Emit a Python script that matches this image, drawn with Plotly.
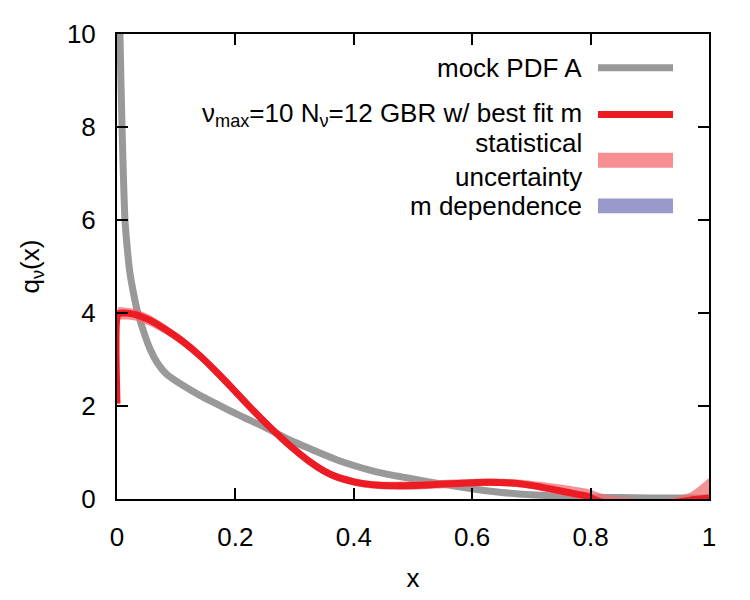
import plotly.graph_objects as go

# ---- data ----
pdf_x = [0.004, 0.005, 0.0085, 0.0135, 0.018, 0.022, 0.028, 0.034, 0.045, 0.056, 0.068, 0.084, 0.113,
         0.14, 0.169, 0.2, 0.225, 0.25, 0.282, 0.3, 0.326, 0.35, 0.372, 0.4, 0.427, 0.45, 0.5, 0.55,
         0.6, 0.65, 0.7, 0.75, 0.8, 0.85, 0.9, 0.95, 1.0]
pdf_y = [11.0, 10.0, 8.0, 6.0, 5.3, 4.85, 4.42, 4.06, 3.6, 3.22, 2.93, 2.68, 2.43,
         2.23, 2.04, 1.84, 1.69, 1.54, 1.33, 1.22, 1.08, 0.95, 0.84, 0.72, 0.62, 0.55, 0.43, 0.32,
         0.22, 0.14, 0.09, 0.06, 0.04, 0.03, 0.02, 0.02, 0.02]

fit_x = [0.0, 0.002, 0.01, 0.03, 0.056, 0.08, 0.111, 0.14, 0.169, 0.2, 0.225, 0.258, 0.292,
         0.326, 0.35, 0.372, 0.4, 0.416, 0.45, 0.5, 0.55, 0.6, 0.63, 0.66, 0.686, 0.715,
         0.743, 0.77, 0.794, 0.81, 0.83, 0.88, 0.93, 0.97, 1.0]
fit_y = [2.05, 3.98, 4.0, 3.97, 3.84, 3.66, 3.39, 3.08, 2.72, 2.31, 1.97, 1.55, 1.15,
         0.8, 0.6, 0.47, 0.37, 0.33, 0.29, 0.29, 0.32, 0.35, 0.36, 0.35, 0.32, 0.26,
         0.19, 0.12, 0.06, -0.03, -0.1, -0.15, -0.1, -0.02, 0.02]
stat_hi = [2.05, 4.12, 4.12, 4.09, 3.95, 3.76, 3.48, 3.17, 2.8, 2.39, 2.05, 1.63, 1.23,
           0.88, 0.68, 0.55, 0.45, 0.41, 0.37, 0.38, 0.41, 0.43, 0.44, 0.43, 0.41, 0.37,
           0.32, 0.27, 0.22, 0.15, 0.08, 0.0, 0.0, 0.15, 0.45]
stat_lo = [2.05, 3.84, 3.86, 3.84, 3.72, 3.56, 3.3, 2.99, 2.64, 2.23, 1.89, 1.47, 1.07,
           0.72, 0.52, 0.39, 0.29, 0.25, 0.21, 0.2, 0.23, 0.27, 0.28, 0.27, 0.24, 0.18,
           0.1, 0.03, -0.05, -0.15, -0.2, -0.25, -0.2, -0.15, -0.2]
mdep_hi = [2.05, 4.0, 4.02, 3.99, 3.86, 3.68, 3.41, 3.1, 2.74, 2.33, 1.99, 1.57, 1.17,
           0.82, 0.62, 0.49, 0.39, 0.35, 0.31, 0.31, 0.34, 0.37, 0.38, 0.37, 0.34, 0.28,
           0.21, 0.14, 0.08, -0.01, -0.08, -0.13, -0.08, 0.0, 0.04]
mdep_lo = [2.05, 3.96, 3.98, 3.95, 3.82, 3.64, 3.37, 3.06, 2.7, 2.29, 1.95, 1.53, 1.13,
           0.78, 0.58, 0.45, 0.35, 0.31, 0.27, 0.27, 0.3, 0.33, 0.34, 0.33, 0.3, 0.24,
           0.17, 0.1, 0.04, -0.05, -0.12, -0.17, -0.12, -0.04, 0.0]

x_ticks = [0, 0.2, 0.4, 0.6, 0.8, 1]
x_tick_labels = ["0", "0.2", "0.4", "0.6", "0.8", "1"]
y_ticks = [0, 2, 4, 6, 8, 10]
y_tick_labels = ["0", "2", "4", "6", "8", "10"]

legend_labels = ["mock PDF A",
                 "ν<sub>max</sub>=10 N<sub>ν</sub>=12 GBR w/ best fit m",
                 "statistical<br>uncertainty",
                 "m dependence"]

GRAY = "rgb(153,153,153)"
RED = "rgb(236,28,36)"
PINK = "rgba(240,110,115,0.75)"
BLUE = "rgb(153,153,204)"
FONT = "Liberation Sans, Arial, sans-serif"
FS = 26

spl = dict(shape="spline", smoothing=0.6)
fig = go.Figure()
fig.add_trace(go.Scatter(x=pdf_x, y=pdf_y, mode="lines", line=dict(color=GRAY, width=7, **spl),
                         showlegend=False))
fig.add_trace(go.Scatter(x=fit_x, y=stat_lo, mode="lines", line=dict(width=0, **spl), showlegend=False))
fig.add_trace(go.Scatter(x=fit_x, y=stat_hi, mode="lines", line=dict(width=0, **spl), fill="tonexty",
                         fillcolor=PINK, showlegend=False))
fig.add_trace(go.Scatter(x=fit_x, y=mdep_lo, mode="lines", line=dict(width=0, **spl), showlegend=False))
fig.add_trace(go.Scatter(x=fit_x, y=mdep_hi, mode="lines", line=dict(width=0, **spl), fill="tonexty",
                         fillcolor=BLUE, showlegend=False))
fig.add_trace(go.Scatter(x=fit_x, y=fit_y, mode="lines", line=dict(color=RED, width=7, **spl),
                         showlegend=False))

# manual legend (text to the left of the sample, gnuplot style)
W, H = 592.0, 468.0
def px(xp):
    return (xp - 117) / W
def py(yp):
    return (502 - yp) / H

text_right = 584
sw_l, sw_r = 598, 673
entries = [(legend_labels[0], 68, "line", GRAY),
           (legend_labels[1], 115, "line", RED),
           (legend_labels[2], 161, "rect", "rgb(246,142,146)"),
           (legend_labels[3], 207, "rect", BLUE)]
shapes = []
for lab, yc, kind, col in entries:
    fig.add_annotation(x=px(text_right), y=py(yc), xref="paper", yref="paper", text=lab, showarrow=False,
                       xanchor="right", yanchor="middle", align="right",
                       font=dict(family=FONT, size=FS, color="black"))
    if kind == "line":
        shapes.append(dict(type="line", xref="paper", yref="paper", x0=px(sw_l), x1=px(sw_r),
                           y0=py(yc), y1=py(yc), line=dict(color=col, width=7)))
    else:
        shapes.append(dict(type="rect", xref="paper", yref="paper", x0=px(sw_l), x1=px(sw_r),
                           y0=py(yc - 7.5), y1=py(yc + 7.5), line=dict(width=0), fillcolor=col))

axis_common = dict(showline=True, linecolor="black", linewidth=2, mirror="ticks", ticks="inside",
                   ticklen=11, tickwidth=1.5, tickcolor="black", showgrid=False, zeroline=False,
                   tickfont=dict(family=FONT, size=FS, color="black"))

fig.update_layout(
    width=750, height=600,
    margin=dict(l=117, r=41, t=34, b=98),
    plot_bgcolor="white", paper_bgcolor="white",
    shapes=shapes,
    xaxis=dict(range=[0, 1], tickvals=x_ticks, ticktext=x_tick_labels, ticklabelstandoff=14,
               title=dict(text="x", font=dict(family=FONT, size=FS, color="black"), standoff=18),
               **axis_common),
    yaxis=dict(range=[0, 10], tickvals=y_ticks, ticktext=y_tick_labels, ticklabelstandoff=14,
               title=dict(text="q<sub>ν</sub>(x)", font=dict(family=FONT, size=FS, color="black"), standoff=20),
               **axis_common),
)

fig.write_html("out.html")
